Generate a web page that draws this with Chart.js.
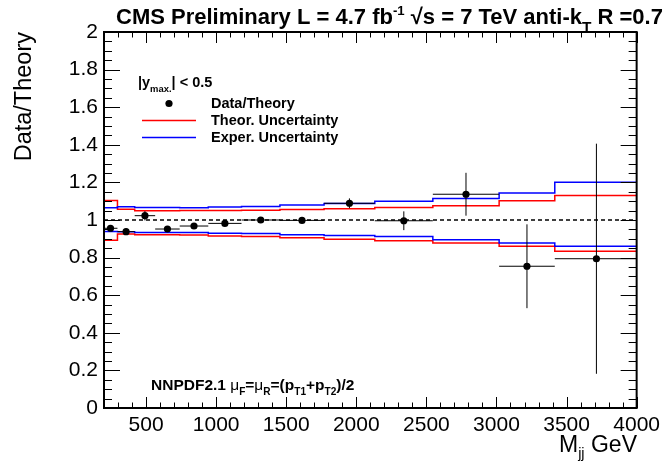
<!DOCTYPE html>
<html>
<head>
<meta charset="utf-8">
<title>Data/Theory vs dijet mass</title>
<script src="https://cdn.jsdelivr.net/npm/chart.js@4.4.1/dist/chart.umd.min.js"></script>
<style>
  html, body { margin: 0; padding: 0; background: #fff; }
  #wrap { width: 665px; height: 463px; }
</style>
</head>
<body>
<div id="wrap"><canvas id="ratioChart" width="665" height="463"></canvas></div>
<script>
// dijet mass bins (GeV), |y_max| < 0.5
var binEdges = [197, 296, 419, 565, 740, 944, 1181, 1455, 1770, 2132, 2546, 3019, 3416, 4010];
// measured / NLO ratio per bin with its statistical error
var ratio    = [0.956, 0.938, 1.023, 0.952, 0.968, 0.982, 1.000, 0.998, 1.089, 0.996, 1.137, 0.754, 0.794];
var ratioErr = [0.008, 0.018, 0.025, 0.008, 0.008, 0.008, 0.008, 0.008, 0.026, 0.050, 0.114, 0.223, 0.612];
// theory (NNPDF2.1) uncertainty band edges
var theoUp   = [1.104, 1.057, 1.049, 1.049, 1.050, 1.050, 1.052, 1.056, 1.060, 1.066, 1.076, 1.103, 1.130];
var theoDown = [0.892, 0.925, 0.922, 0.922, 0.920, 0.915, 0.912, 0.905, 0.897, 0.889, 0.878, 0.861, 0.834];
// experimental uncertainty band edges
var expUp    = [1.065, 1.071, 1.066, 1.066, 1.065, 1.069, 1.072, 1.080, 1.088, 1.100, 1.115, 1.143, 1.201];
var expDown  = [0.939, 0.938, 0.934, 0.934, 0.934, 0.929, 0.928, 0.922, 0.918, 0.912, 0.895, 0.878, 0.861];

var xTicks = [500, 1000, 1500, 2000, 2500, 3000, 3500, 4000];
var yTicks = [0, 0.2, 0.4, 0.6, 0.8, 1, 1.2, 1.4, 1.6, 1.8, 2];

var FONT = "'Liberation Sans', Arial, Helvetica, sans-serif";
var RED = '#ff0000';
var BLUE = '#0000ff';

// histogram outline: one point per low edge plus the last high edge
function stepData(vals) {
  return binEdges.map(function (e, i) {
    return { x: e, y: vals[Math.min(i, vals.length - 1)] };
  });
}

function binCentres() {
  return ratio.map(function (r, i) {
    return { x: (binEdges[i] + binEdges[i + 1]) / 2, y: r };
  });
}

// draw a run of text pieces (sub/superscripts) starting at x
function drawRuns(ctx, x, y, runs, align) {
  var total = 0;
  runs.forEach(function (r) {
    ctx.font = r.font;
    total += ctx.measureText(r.t).width;
  });
  var cx = align === 'right' ? x - total : x;
  runs.forEach(function (r) {
    ctx.font = r.font;
    ctx.fillText(r.t, cx, y + (r.dy || 0));
    cx += ctx.measureText(r.t).width;
  });
  return total;
}

function f(size, weight) {
  return (weight || 'normal') + ' ' + size + 'px ' + FONT;
}

// error bars: horizontal over the bin, vertical +- stat error
var errorBars = {
  id: 'errorBars',
  afterDatasetsDraw: function (chart) {
    var ctx = chart.ctx, a = chart.chartArea, x = chart.scales.x, y = chart.scales.y;
    ctx.save();
    ctx.beginPath();
    ctx.rect(a.left, a.top, a.right - a.left, a.bottom - a.top);
    ctx.clip();
    ctx.strokeStyle = '#000';
    ctx.lineWidth = 1;
    ctx.beginPath();
    ratio.forEach(function (r, i) {
      var xc = x.getPixelForValue((binEdges[i] + binEdges[i + 1]) / 2);
      var yc = y.getPixelForValue(r);
      ctx.moveTo(x.getPixelForValue(binEdges[i]), yc);
      ctx.lineTo(x.getPixelForValue(binEdges[i + 1]), yc);
      ctx.moveTo(xc, y.getPixelForValue(r + ratioErr[i]));
      ctx.lineTo(xc, y.getPixelForValue(r - ratioErr[i]));
    });
    ctx.stroke();
    ctx.restore();
  }
};

// ROOT-style frame with inward ticks on all four sides
var frameTicks = {
  id: 'frameTicks',
  afterDraw: function (chart) {
    var ctx = chart.ctx, a = chart.chartArea, x = chart.scales.x, y = chart.scales.y;
    ctx.save();
    ctx.strokeStyle = '#000';
    ctx.lineWidth = 1;
    ctx.beginPath();
    for (var v = 200; v <= 4000; v += 100) {
      var px = Math.round(x.getPixelForValue(v)) + 0.5;
      var len = v % 500 === 0 ? 11 : 5.5;
      ctx.moveTo(px, a.bottom); ctx.lineTo(px, a.bottom - len);
      ctx.moveTo(px, a.top); ctx.lineTo(px, a.top + len);
    }
    for (var i = 0; i <= 40; i++) {
      var py = Math.round(y.getPixelForValue(i * 0.05)) + 0.5;
      var l2 = i % 4 === 0 ? 16 : 8;
      ctx.moveTo(a.left, py); ctx.lineTo(a.left + l2, py);
      ctx.moveTo(a.right, py); ctx.lineTo(a.right - l2, py);
    }
    ctx.stroke();
    ctx.lineWidth = 2;
    ctx.strokeRect(a.left, a.top, a.right - a.left, a.bottom - a.top);
    ctx.restore();
  }
};

// title, legend, PDF label and x-axis title
var labels = {
  id: 'labels',
  afterDraw: function (chart) {
    var ctx = chart.ctx;
    ctx.save();
    ctx.fillStyle = '#000';
    ctx.textBaseline = 'alphabetic';
    ctx.textAlign = 'left';

    var T = 22;
    drawRuns(ctx, 116, 24, [
      { t: 'CMS Preliminary L = 4.7 fb', font: f(T, 'bold') },
      { t: '-1', font: f(T * 0.6, 'bold'), dy: -T * 0.42 },
      { t: ' \u221As = 7 TeV anti-k', font: f(T, 'bold') },
      { t: 'T', font: f(T * 0.7, 'bold'), dy: 8 },
      { t: ' R =0.7', font: f(T, 'bold') }
    ]);

    // legend
    var L = 14.5;
    drawRuns(ctx, 138, 87, [
      { t: '|y', font: f(L, 'bold') },
      { t: 'max.', font: f(L * 0.65, 'bold'), dy: 5 },
      { t: '| < 0.5', font: f(L, 'bold') }
    ]);
    ctx.beginPath();
    ctx.arc(169, 103.5, 3.6, 0, Math.PI * 2);
    ctx.fill();
    ctx.font = f(L, 'bold');
    ctx.fillText('Data/Theory', 211, 108);
    ctx.lineWidth = 1.5;
    ctx.strokeStyle = RED;
    ctx.beginPath(); ctx.moveTo(142, 120.5); ctx.lineTo(196, 120.5); ctx.stroke();
    ctx.fillText('Theor. Uncertainty', 211, 125);
    ctx.strokeStyle = BLUE;
    ctx.beginPath(); ctx.moveTo(142, 137.5); ctx.lineTo(196, 137.5); ctx.stroke();
    ctx.fillText('Exper. Uncertainty', 211, 142);

    // scale choice
    var N = 15.5, S = N * 0.65, d = 5;
    drawRuns(ctx, 151, 390, [
      { t: 'NNPDF2.1 ', font: f(N, 'bold') },
      { t: '\u03BC', font: f(N) },
      { t: 'F', font: f(S, 'bold'), dy: d },
      { t: '=', font: f(N, 'bold') },
      { t: '\u03BC', font: f(N) },
      { t: 'R', font: f(S, 'bold'), dy: d },
      { t: '=(p', font: f(N, 'bold') },
      { t: 'T1', font: f(S, 'bold'), dy: d },
      { t: '+p', font: f(N, 'bold') },
      { t: 'T2', font: f(S, 'bold'), dy: d },
      { t: ')/2', font: f(N, 'bold') }
    ]);

    // x-axis title
    drawRuns(ctx, 637, 452, [
      { t: 'M', font: f(23) },
      { t: 'jj', font: f(14.5), dy: 6 },
      { t: ' GeV', font: f(23) }
    ], 'right');
    ctx.restore();
  }
};

new Chart(document.getElementById('ratioChart'), {
  type: 'line',
  data: {
    datasets: [
      {
        label: 'Data/Theory',
        data: binCentres(),
        showLine: false,
        pointRadius: 3.6,
        pointBorderWidth: 0,
        pointBackgroundColor: '#000',
        pointBorderColor: '#000'
      },
      {
        label: 'unity',
        data: [{ x: 200, y: 1 }, { x: 4000, y: 1 }],
        borderColor: '#000',
        borderWidth: 1.4,
        borderDash: [4, 3],
        pointRadius: 0
      },
      {
        label: 'Exper. Uncertainty',
        data: stepData(expUp),
        stepped: true, borderColor: BLUE, borderWidth: 1.5, pointRadius: 0
      },
      {
        label: 'Exper. Uncertainty (low)',
        data: stepData(expDown),
        stepped: true, borderColor: BLUE, borderWidth: 1.5, pointRadius: 0
      },
      {
        label: 'Theor. Uncertainty',
        data: stepData(theoUp),
        stepped: true, borderColor: RED, borderWidth: 1.5, pointRadius: 0
      },
      {
        label: 'Theor. Uncertainty (low)',
        data: stepData(theoDown),
        stepped: true, borderColor: RED, borderWidth: 1.5, pointRadius: 0
      }
    ]
  },
  options: {
    responsive: false,
    devicePixelRatio: 1,
    animation: false,
    events: [],
    layout: { padding: { left: 0, right: 25, top: 32, bottom: 0 } },
    plugins: {
      legend: { display: false },
      tooltip: { enabled: false }
    },
    scales: {
      x: {
        type: 'linear',
        min: 200,
        max: 4000,
        grid: { display: false, drawTicks: false },
        border: { display: false },
        ticks: {
          color: '#000',
          font: { family: FONT, size: 21 },
          padding: 5,
          callback: function (v) { return String(v); }
        },
        afterBuildTicks: function (s) {
          s.ticks = xTicks.map(function (v) { return { value: v }; });
        },
        afterFit: function (s) { s.height = 55; }
      },
      y: {
        min: 0,
        max: 2,
        grid: { display: false, drawTicks: false },
        border: { display: false },
        ticks: {
          color: '#000',
          font: { family: FONT, size: 21 },
          padding: 6,
          callback: function (v) { return String(+v.toFixed(1)); }
        },
        afterBuildTicks: function (s) {
          s.ticks = yTicks.map(function (v) { return { value: v }; });
        },
        afterFit: function (s) { s.width = 104; },
        title: {
          display: true,
          text: 'Data/Theory',
          align: 'end',
          color: '#000',
          font: { family: FONT, size: 23.5 },
          padding: { top: 10 }
        }
      }
    }
  },
  plugins: [errorBars, frameTicks, labels]
});
</script>
</body>
</html>
